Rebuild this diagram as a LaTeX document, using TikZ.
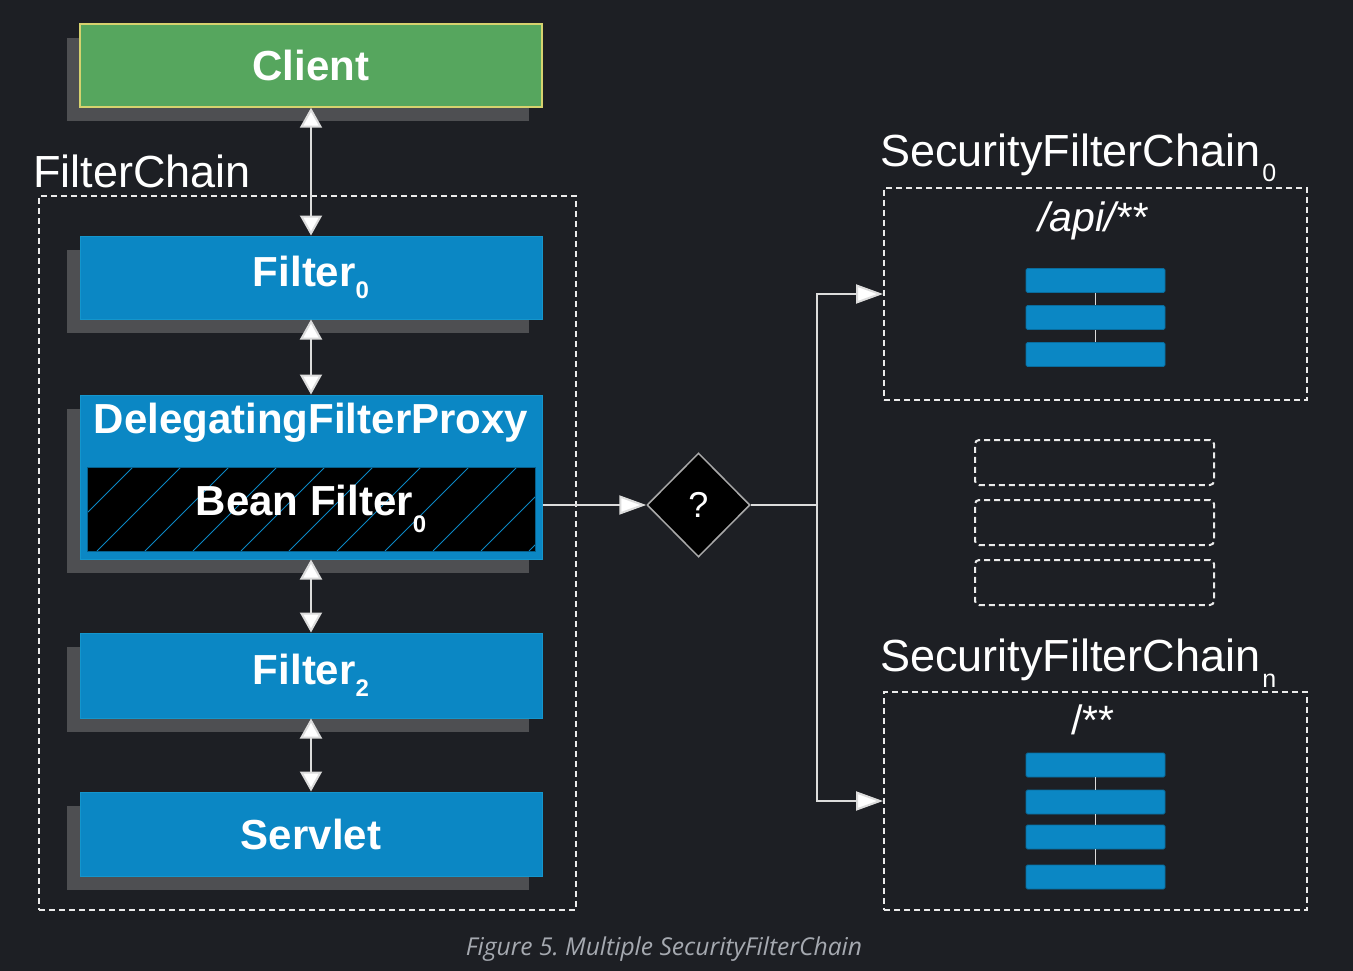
\documentclass[tikz,border=0pt]{standalone}
\usepackage{fontspec}
\setmainfont{Liberation Sans}
\newfontfamily\capfont{Open Sans}
\usetikzlibrary{arrows.meta,shapes.geometric,shadows}
\definecolor{bg}{RGB}{29,31,36}
\definecolor{boxblue}{RGB}{11,135,196}
\definecolor{boxedge}{RGB}{20,150,205}
\definecolor{shadowgray}{RGB}{78,79,82}
\definecolor{clientgreen}{RGB}{86,166,94}
\definecolor{clientedge}{RGB}{214,210,110}
\definecolor{linegray}{RGB}{220,220,220}
\definecolor{dashgray}{RGB}{235,235,235}
\definecolor{capgray}{RGB}{165,169,176}
\definecolor{qedge}{RGB}{170,170,170}
\newcommand{\subdown}[2]{\raisebox{-#1pt}{\fontsize{24}{24}\selectfont #2}}
\begin{document}
\frenchspacing
\begin{tikzpicture}[x=1pt,y=-1pt,
  bigbox/.style={draw=boxedge, line width=1pt, fill=boxblue, minimum width=462pt,
    minimum height=83pt, inner sep=0pt, text=white,
    font=\bfseries\fontsize{42}{48}\selectfont,
    drop shadow={shadow xshift=-13pt, shadow yshift=-14pt, fill=shadowgray, opacity=1}},
  conn/.style={draw=linegray, line width=2pt},
  dbl/.style={conn, {Triangle[length=20pt,width=22pt,fill=white]}-{Triangle[length=20pt,width=22pt,fill=white]}},
  sarrow/.style={conn, -{Triangle[length=27pt,width=19pt,fill=white]}},
  dashbox/.style={draw=dashgray, line width=2pt, dash pattern=on 6pt off 4pt},
  bar/.style={draw=boxblue!80!black, line width=0.8pt, fill=boxblue, minimum width=139pt,
    minimum height=24pt, inner sep=0pt, rounded corners=1.5pt},
  lbl/.style={text=white, inner sep=0pt, font=\fontsize{45}{50}\selectfont},
  hatch/.style={draw=boxblue, line width=1pt}
]
\fill[bg] (0,0) rectangle (1353,971);
\useasboundingbox (0,0) rectangle (1353,971);

% FilterChain container
\node[dashbox, minimum width=537pt, minimum height=714pt, inner sep=0pt] (fc) at (307.5,553) {};
\node[lbl, anchor=base west] (fclbl) at (33,188) {FilterChain};

% left column
\node[bigbox, fill=clientgreen, draw=clientedge, line width=1.5pt] (client) at (311,65.5) {Client};
\node[bigbox] (f0) at (311,277.5) {Filter\subdown{12}{0}};
\node[bigbox, minimum height=164pt] (dfp) at (311,477) {};
\node[text=white, inner sep=0pt, font=\bfseries\fontsize{42}{48}\selectfont, anchor=base] (dfptext) at (311,433) {DelegatingFilterProxy};
\node[draw=boxblue!70!black, line width=1pt, fill=black, minimum width=448pt, minimum height=84pt, inner sep=0pt] (bean) at (311,509) {};
\begin{scope}
  \clip (bean.south west) rectangle (bean.north east);
  \foreach \k in {0,...,11} {
    \draw[hatch] (49+\k*48,551) -- ++(90,-90);
  }
\end{scope}
\node[draw=boxblue!70!black, line width=1pt, minimum width=448pt, minimum height=84pt, inner sep=0pt,
  text=white, font=\bfseries\fontsize{42}{48}\selectfont] (beantext) at (311,509) {Bean Filter\subdown{17}{0}};
\node[bigbox, minimum height=85pt] (f2) at (311,675.5) {Filter\subdown{12}{2}};
\node[bigbox, minimum height=84pt] (servlet) at (311,834) {Servlet};

\draw[dbl] (client.south) -- (f0.north);
\draw[dbl] (f0.south) -- (dfp.north);
\draw[dbl] (dfp.south) -- (f2.north);
\draw[dbl] (f2.south) -- (servlet.north);

% decision
\node[diamond, aspect=1, draw=qedge, line width=1.5pt, fill=black, minimum width=103pt, minimum height=104pt,
  inner sep=0pt, text=white, font=\fontsize{36}{40}\selectfont] (q) at (698.5,505) {?};
\draw[sarrow] (dfp.east |- q.west) -- (q.west);
\coordinate (split) at (817,505);

% SecurityFilterChain 0
\node[lbl, anchor=base west] (s0lbl) at (880,167) {SecurityFilterChain{\fontsize{25}{25}\selectfont\hspace{2pt}\raisebox{-15pt}{0}}};
\node[dashbox, minimum width=423pt, minimum height=212pt, inner sep=0pt] (s0) at (1095.5,294) {};
\node[text=white, inner sep=0pt, font=\itshape\fontsize{41}{45}\selectfont, anchor=base] (s0pat) at (1093,231) {/api/**};
\node[bar] (a1) at (1095.5,280.5) {};
\node[bar] (a2) at (1095.5,317.5) {};
\node[bar] (a3) at (1095.5,354.5) {};
\draw[draw=linegray, line width=1.2pt] (a1) -- (a2);
\draw[draw=linegray, line width=1.2pt] (a2) -- (a3);

% middle placeholders
\node[dashbox, rounded corners=4pt, minimum width=239pt, minimum height=45pt, inner sep=0pt] (m1) at (1094.5,462.5) {};
\node[dashbox, rounded corners=4pt, minimum width=239pt, minimum height=45pt, inner sep=0pt] (m2) at (1094.5,522.5) {};
\node[dashbox, rounded corners=4pt, minimum width=239pt, minimum height=45pt, inner sep=0pt] (m3) at (1094.5,582.5) {};

% SecurityFilterChain n
\node[lbl, anchor=base west] (snlbl) at (880,671) {SecurityFilterChain{\fontsize{25}{25}\selectfont\hspace{2pt}\raisebox{-16pt}{n}}};
\node[dashbox, minimum width=423pt, minimum height=218pt, inner sep=0pt] (sn) at (1095.5,801) {};
\node[text=white, inner sep=0pt, font=\fontsize{41}{45}\selectfont, anchor=base] (snpat) at (1093,734) {/**};
\node[bar] (b1) at (1095.5,765) {};
\node[bar] (b2) at (1095.5,802) {};
\node[bar] (b3) at (1095.5,837) {};
\node[bar] (b4) at (1095.5,877) {};
\draw[draw=linegray, line width=1.2pt] (b1) -- (b2);
\draw[draw=linegray, line width=1.2pt] (b2) -- (b3);
\draw[draw=linegray, line width=1.2pt] (b3) -- (b4);

\draw[conn] (q.east) -- (split);
\draw[sarrow] (split) |- (s0.west);
\draw[sarrow] (split) |- (sn.west);

% caption
\node[text=capgray, inner sep=0pt, font=\capfont\itshape\fontsize{24.6}{28}\selectfont, anchor=base] (cap) at (664,955) {Figure 5. Multiple SecurityFilterChain};
\end{tikzpicture}
\end{document}
